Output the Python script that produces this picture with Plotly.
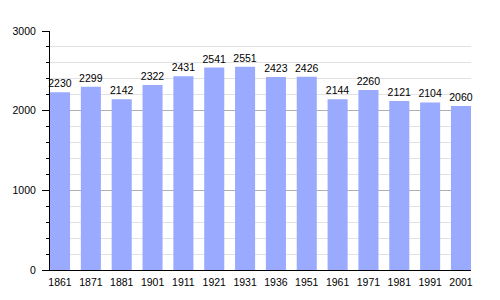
import plotly.graph_objects as go

years = ["1861", "1871", "1881", "1901", "1911", "1921", "1931", "1936", "1951", "1961", "1971", "1981", "1991", "2001"]
population = [2230, 2299, 2142, 2322, 2431, 2541, 2551, 2423, 2426, 2144, 2260, 2121, 2104, 2060]

bar_w = 0.65
fig = go.Figure(go.Bar(
    x=list(range(len(years))), y=population,
    width=bar_w,
    marker=dict(color="#99aaff", line=dict(width=0)),
    text=[str(v) for v in population], textposition="outside",
    constraintext="none",
    textfont=dict(family="Liberation Sans, Arial, sans-serif", size=10.5, color="black"),
    cliponaxis=False,
))

fig.update_layout(
    width=500, height=300,
    margin=dict(l=50, r=29, t=31, b=30),
    plot_bgcolor="white", paper_bgcolor="white",
    showlegend=False,
    font=dict(family="Liberation Sans, Arial, sans-serif", size=10, color="black"),
)
fig.update_xaxes(
    range=[-bar_w / 2, len(years) - 1 + bar_w / 2],
    tickmode="array", tickvals=list(range(len(years))), ticktext=years,
    showgrid=False, zeroline=False,
    showline=True, linecolor="black", linewidth=1,
    ticks="", ticklabelstandoff=2,
    tickfont=dict(size=10.5),
)
fig.update_yaxes(
    range=[0, 3000], dtick=1000, tick0=0,
    showgrid=True, gridcolor="#b0b0b0", gridwidth=1,
    zeroline=False,
    showline=True, linecolor="black", linewidth=1,
    ticks="outside", ticklen=7, tickcolor="black", tickwidth=1,
    ticklabelstandoff=4,
    tickfont=dict(size=10.5),
    minor=dict(dtick=200, showgrid=True, gridcolor="#e2e2e2", gridwidth=1,
               ticks="outside", ticklen=3, tickcolor="black"),
)

fig.write_html("out.html")
